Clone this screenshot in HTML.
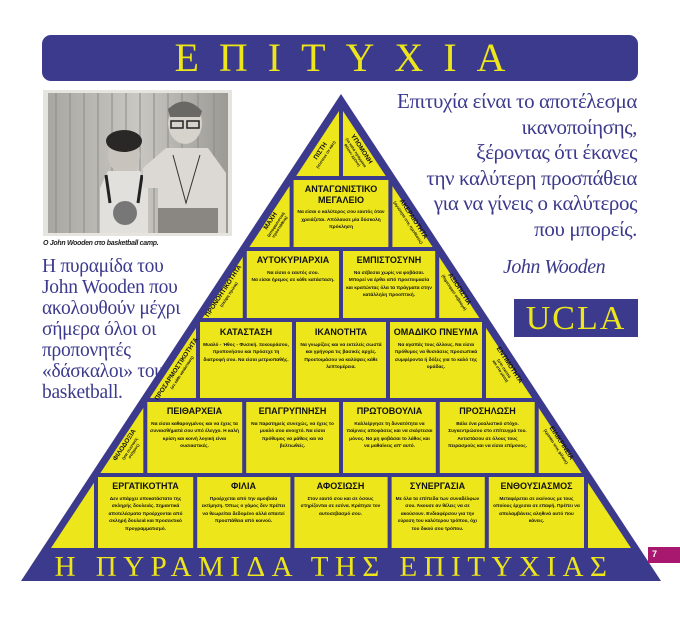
<!DOCTYPE html>
<html><head><meta charset="utf-8">
<style>
*{margin:0;padding:0;box-sizing:border-box}
body{width:680px;height:623px;background:#fff;position:relative;overflow:hidden;font-family:"Liberation Sans",sans-serif}
.banner{position:absolute;left:42px;top:35px;width:596px;height:46px;background:#3c3a8c;border-radius:9px;color:#ece61a;font-family:"Liberation Serif",serif;font-size:40px;line-height:46px;text-align:center;letter-spacing:20px;padding-left:20px}
.quote{position:absolute;right:43px;top:89px;width:300px;text-align:right;color:#3c3a8c;font-family:"Liberation Serif",serif;font-size:21px;line-height:25.5px;letter-spacing:-0.4px}
.left{position:absolute;left:42px;top:256px;color:#3c3a8c;font-family:"Liberation Serif",serif;font-size:19.5px;line-height:21px;letter-spacing:-0.3px}
.sig{position:absolute;left:503px;top:256px;color:#3c3a8c;font-family:"Liberation Serif",serif;font-style:italic;font-size:20px;letter-spacing:-0.5px}
.ucla{position:absolute;left:514px;top:299px;width:124px;height:38px;background:#3c3a8c;color:#ece61a;font-family:"Liberation Serif",serif;font-size:34px;line-height:40px;text-align:center;letter-spacing:2px}
.cap{position:absolute;left:43px;top:240px;font-size:7px;font-style:italic;font-weight:bold;color:#222;letter-spacing:-0.3px}
.box{position:absolute;text-align:center;color:#111}
.box b{display:block;font-size:9px;line-height:10.5px;font-weight:bold;margin-bottom:4px}
.box span{display:block;font-size:4.8px;line-height:7.5px;font-weight:bold;font-family:"Liberation Sans Narrow","Liberation Sans",sans-serif;padding:0 3px}
.pg{position:absolute;left:648px;top:547px;width:32px;height:16px;background:#a8186e;color:#fff;font-size:9px;font-weight:bold;padding:2px 4px}
</style></head><body>
<div class="banner">ΕΠΙΤΥΧΙΑ</div>

<div style="position:absolute;left:43px;top:90px;width:189px;height:146px;background:#e6e4df"></div>
<svg style="position:absolute;left:48px;top:93px" width="180" height="140">
<defs><linearGradient id="w" x1="0" x2="1"><stop offset="0" stop-color="#a9a7a2"/><stop offset="0.5" stop-color="#c9c7c2"/><stop offset="1" stop-color="#9c9a95"/></linearGradient></defs>
<rect width="180" height="140" fill="url(#w)"/>
<g stroke="#8d8b86" stroke-width="1">
<line x1="8" y1="0" x2="8" y2="140"/><line x1="22" y1="0" x2="22" y2="140"/><line x1="36" y1="0" x2="36" y2="140"/><line x1="50" y1="0" x2="50" y2="140"/><line x1="64" y1="0" x2="64" y2="140"/><line x1="78" y1="0" x2="78" y2="140"/><line x1="92" y1="0" x2="92" y2="140"/><line x1="106" y1="0" x2="106" y2="140"/><line x1="120" y1="0" x2="120" y2="140"/><line x1="134" y1="0" x2="134" y2="140"/><line x1="150" y1="0" x2="150" y2="140"/><line x1="166" y1="0" x2="166" y2="140"/></g>
<ellipse cx="76" cy="62" rx="16" ry="19" fill="#c8c4bd"/>
<ellipse cx="76" cy="48" rx="18" ry="11" fill="#2a2826"/>
<path d="M52 95 L60 78 L92 78 L100 95 L100 140 L52 140Z" fill="#e2e0dc"/>
<path d="M58 82 L62 110 M94 82 L90 110" stroke="#222" stroke-width="3"/>
<circle cx="77" cy="120" r="12" fill="#777"/>
<ellipse cx="137" cy="30" rx="17" ry="21" fill="#d6d2cc"/>
<path d="M120 16 Q137 0 154 18 L152 24 L122 24Z" fill="#6a6864"/>
<path d="M123 28 h12 v7 h-12z M139 28 h12 v7 h-12z" fill="none" stroke="#222" stroke-width="1.5"/>
<path d="M95 75 L118 55 L160 55 L178 80 L178 140 L110 140 L110 95 L95 95Z" fill="#dcd9d4"/>
<path d="M125 62 L138 110 L152 62" fill="none" stroke="#333" stroke-width="1"/>
<rect x="110" y="115" width="60" height="25" fill="#8a8782"/>
</svg>
<div class="cap">O John Wooden στο basketball camp.</div>

<div class="quote">Επιτυχία είναι το αποτέλεσμα<br>ικανοποίησης,<br>ξέροντας ότι έκανες<br>την καλύτερη προσπάθεια<br>για να γίνεις ο καλύτερος<br>που μπορείς.</div>
<div class="sig">John Wooden</div>
<div class="ucla">UCLA</div>
<div class="left">Η πυραμίδα του<br>John Wooden που<br>ακολουθούν μέχρι<br>σήμερα όλοι οι<br>προπονητές<br>«δάσκαλοι» του<br>basketball.</div>

<svg style="position:absolute;left:0;top:0" width="680" height="623">
<defs><clipPath id="tri"><polygon points="341,100 45,552 637,552"/></clipPath></defs>
<polygon points="341,94 21,581 661,581" fill="#3c3a8c"/>
<polygon points="341,108 51,548 631,548" fill="#ece61a"/>
<g fill="#3c3a8c" clip-path="url(#tri)">
<rect x="0" y="176" width="680" height="4"/>
<rect x="0" y="247" width="680" height="4"/>
<rect x="0" y="318" width="680" height="4"/>
<rect x="0" y="398" width="680" height="4"/>
<rect x="0" y="473" width="680" height="4"/>
<rect x="339" y="100" width="4" height="78"/>
<rect x="289.6" y="180" width="4" height="67"/><rect x="388.4" y="180" width="4" height="67"/>
<rect x="242.8" y="251" width="4" height="67"/><rect x="339" y="251" width="4" height="67"/><rect x="435.2" y="251" width="4" height="67"/>
<rect x="196" y="322" width="4" height="76"/><rect x="292" y="322" width="4" height="76"/><rect x="386" y="322" width="4" height="76"/><rect x="482" y="322" width="4" height="76"/>
<rect x="143.3" y="402" width="4" height="71"/><rect x="242.2" y="402" width="4" height="71"/><rect x="339" y="402" width="4" height="71"/><rect x="435.8" y="402" width="4" height="71"/><rect x="534.7" y="402" width="4" height="71"/>
<rect x="94" y="477" width="4" height="71"/><rect x="193.2" y="477" width="4" height="71"/><rect x="290.4" y="477" width="4" height="71"/><rect x="387.6" y="477" width="4" height="71"/><rect x="484.8" y="477" width="4" height="71"/><rect x="584" y="477" width="4" height="71"/>
</g>
<g font-family="Liberation Sans, sans-serif" font-weight="bold" fill="#111" text-anchor="middle">
<g transform="translate(322,152) rotate(-56.7)"><text font-size="6.5">ΠΙΣΤΗ</text><text y="6" font-size="4">(πίστευε σε κάτι)</text></g>
<g transform="translate(360,150) rotate(56.7)"><text font-size="6.5">ΥΠΟΜΟΝΗ</text><text y="6" font-size="3.8">(τα καλά πράγματα</text><text y="10.5" font-size="3.8">θέλουν χρόνο)</text></g>
<g transform="translate(272,222) rotate(-56.7)"><text font-size="6.5">ΜΑΧΗ</text><text y="6" font-size="4">(αποφασιστική</text><text y="10.5" font-size="4">προσπάθεια)</text></g>
<g transform="translate(412,220) rotate(56.7)"><text font-size="6.5">ΑΚΕΡΑΙΟΤΗΤΑ</text><text y="6" font-size="4">(αγνότητα στις προθέσεις)</text></g>
<g transform="translate(225,292) rotate(-56.7)"><text font-size="6.5">ΠΡΟΝΟΗΤΙΚΟΤΗΤΑ</text><text y="6" font-size="4">(σκέψη πρώτα)</text></g>
<g transform="translate(458,290) rotate(56.7)"><text font-size="6.5">ΑΞΙΟΠΙΣΤΙΑ</text><text y="6" font-size="4">(δημιουργεί σεβασμό)</text></g>
<g transform="translate(178,370) rotate(-56.7)"><text font-size="6.5">ΠΡΟΣΑΡΜΟΣΤΙΚΟΤΗΤΑ</text><text y="6" font-size="4">(σε κάθε κατάσταση)</text></g>
<g transform="translate(508,366) rotate(56.7)"><text font-size="6.5">ΕΝΤΙΜΟΤΗΤΑ</text><text y="6" font-size="4">(στο σκοπό</text><text y="10.5" font-size="4">και στα μέσα)</text></g>
<g transform="translate(126,446) rotate(-56.7)"><text font-size="6.5">ΦΙΛΟΔΟΞΙΑ</text><text y="6" font-size="4">(για σωστούς</text><text y="10.5" font-size="4">στόχους)</text></g>
<g transform="translate(560,444) rotate(56.7)"><text font-size="6.5">ΕΙΛΙΚΡΙΝΕΙΑ</text><text y="6" font-size="4">(κρατάει τους φίλους)</text></g>
</g>
<text x="334" y="576" text-anchor="middle" font-family="Liberation Serif, serif" font-size="29" fill="#ece61a" letter-spacing="6.5">Η ΠΥΡΑΜΙΔΑ ΤΗΣ ΕΠΙΤΥΧΙΑΣ</text>
</svg>

<div class="box" style="left:294px;top:184px;width:94px"><b>ΑΝΤΑΓΩΝΙΣΤΙΚΟ<br>ΜΕΓΑΛΕΙΟ</b><span>Να είσαι ο καλύτερος σου εαυτός όταν χρειάζεται. Απόλαυσε μία δύσκολη πρόκληση</span></div>
<div class="box" style="left:247px;top:255px;width:92px"><b>ΑΥΤΟΚΥΡΙΑΡΧΙΑ</b><span>Να είσαι ο εαυτός σου.<br>Να είσαι ήρεμος σε κάθε κατάσταση.</span></div>
<div class="box" style="left:343px;top:255px;width:92px"><b>ΕΜΠΙΣΤΟΣΥΝΗ</b><span>Να σέβεσαι χωρίς να φοβάσαι. Μπορεί να έρθει από προετοιμασία και κρατώντας όλα τα πράγματα στην κατάλληλη προοπτική.</span></div>
<div class="box" style="left:200px;top:327px;width:92px"><b>ΚΑΤΑΣΤΑΣΗ</b><span>Μυαλό - Ήθος - Φυσική. Ξεκουράσου, προπονήσου και πρόσεχε τη διατροφή σου. Να είσαι μετριοπαθής.</span></div>
<div class="box" style="left:296px;top:327px;width:90px"><b>ΙΚΑΝΟΤΗΤΑ</b><span>Να γνωρίζεις και να εκτελείς σωστά και γρήγορα τις βασικές αρχές. Προετοιμάσου να καλύψεις κάθε λεπτομέρεια.</span></div>
<div class="box" style="left:390px;top:327px;width:92px"><b>ΟΜΑΔΙΚΟ ΠΝΕΥΜΑ</b><span>Να αγαπάς τους άλλους. Να είσαι πρόθυμος να θυσιάσεις προσωπικά συμφέροντα ή δόξες για το καλό της ομάδας.</span></div>
<div class="box" style="left:147px;top:406px;width:95px"><b>ΠΕΙΘΑΡΧΕΙΑ</b><span>Να είσαι καθαρογμένος και να έχεις τα συναισθήματά σου υπό έλεγχο. Η καλή κρίση και κοινή λογική είναι ουσιαστικές.</span></div>
<div class="box" style="left:246px;top:406px;width:93px"><b>ΕΠΑΓΡΥΠΝΗΣΗ</b><span>Να παρατηρείς συνεχώς, να έχεις το μυαλό σου ανοιχτό. Να είσαι πρόθυμος να μάθεις και να βελτιωθείς.</span></div>
<div class="box" style="left:343px;top:406px;width:93px"><b>ΠΡΩΤΟΒΟΥΛΙΑ</b><span>Καλλιέργησε τη δυνατότητα να παίρνεις αποφάσεις και να σκέφτεσαι μόνος. Να μη φοβάσαι το λάθος και να μαθαίνεις απ' αυτό.</span></div>
<div class="box" style="left:440px;top:406px;width:95px"><b>ΠΡΟΣΗΛΩΣΗ</b><span>Βάλε ένα ρεαλιστικό στόχο. Συγκεντρώσου στο επίτευγμά του. Αντιστάσου σε όλους τους πειρασμούς και να είσαι επίμονος.</span></div>
<div class="box" style="left:98px;top:481px;width:95px"><b>ΕΡΓΑΤΙΚΟΤΗΤΑ</b><span>Δεν υπάρχει υποκατάστατο της σκληρής δουλειάς. Σημαντικά αποτελέσματα προέρχονται από σκληρή δουλειά και προσεκτικό προγραμματισμό.</span></div>
<div class="box" style="left:197px;top:481px;width:93px"><b>ΦΙΛΙΑ</b><span>Προέρχεται από την αμοιβαία εκτίμηση. Όπως ο γάμος δεν πρέπει να θεωρείται δεδομένο αλλά απαιτεί προσπάθεια από κοινού.</span></div>
<div class="box" style="left:294px;top:481px;width:93px"><b>ΑΦΟΣΙΩΣΗ</b><span>Στον εαυτό σου και σε όσους στηρίζονται σε εσένα. Κράτησε τον αυτοσεβασμό σου.</span></div>
<div class="box" style="left:391px;top:481px;width:93px"><b>ΣΥΝΕΡΓΑΣΙΑ</b><span>Με όλα τα επίπεδα των συναδέλφων σου. Άκουσε αν θέλεις να σε ακούσουν. Ενδιαφέρσου για την εύρεση του καλύτερου τρόπου, όχι του δικού σου τρόπου.</span></div>
<div class="box" style="left:489px;top:481px;width:95px"><b>ΕΝΘΟΥΣΙΑΣΜΟΣ</b><span>Μεταφέρεται σε εκείνους με τους οποίους έρχεσαι σε επαφή. Πρέπει να απολαμβάνεις αληθινά αυτό που κάνεις.</span></div>

<div class="pg">7</div>
</body></html>
